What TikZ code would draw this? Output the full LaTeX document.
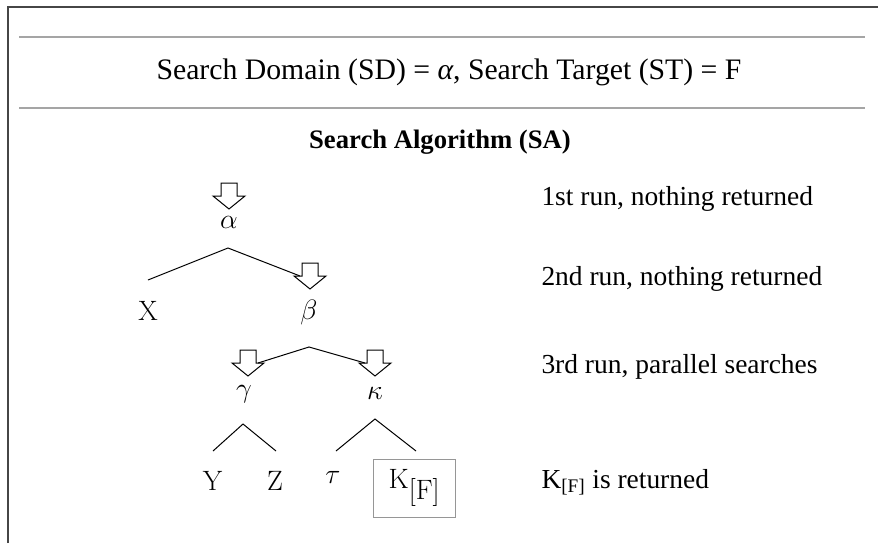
\documentclass[tikz,border=0pt]{standalone}
\usepackage{fix-cm}
\usepackage[no-math]{fontspec}
\setmainfont{Liberation Serif}
\usepackage{tikz}
\definecolor{rulegray}{RGB}{165,165,165}
\definecolor{framegray}{RGB}{70,70,70}
\definecolor{boxgray}{RGB}{150,150,150}
\tikzset{every picture/.style={line width=0.75pt}}
\tikzset{
  runtext/.style={anchor=base west,inner sep=0.75pt,font=\fontsize{20.6}{24}\selectfont},
  lbl/.style={anchor=base,inner sep=0.75pt,font=\fontsize{21}{25}\selectfont},
  searcharrow/.pic={
    \draw (-8,26) -- (8,26) -- (8,13) -- (16,13) -- (0,0) -- (-16,13) -- (-8,13) -- cycle ;
    \coordinate (-l) at (-10,13);
    \coordinate (-r) at (10,13);
  }
}

\begin{document}
\begin{tikzpicture}[x=0.75pt,y=0.75pt,yscale=-1,xscale=1]
\useasboundingbox (0,0) rectangle (878,543); %set diagram to 878 x 543

%Frame
\draw [framegray, line width=1.2pt] (8,543) -- (8,7) -- (878,7) ;
%Rules
\draw [rulegray, line width=1.1pt] (19,37) -- (865,37) ;
\draw [rulegray, line width=1.1pt] (19,108) -- (865,108) ;

% Text Node
\node (hdr) at (449,79) [anchor=base,inner sep=0.75pt,font=\fontsize{22.3}{26}\selectfont] {Search Domain (SD) = \textit{α}, Search Target (ST) = F};
% Text Node
\node (title) at (440,148) [anchor=base,inner sep=0.75pt,font=\bfseries\fontsize{20}{24}\selectfont] {Search Algorithm (SA)};

%Arrows
\pic (arra) at (229,209) {searcharrow};
\pic (arrb) at (310,289) {searcharrow};
\pic (arrg) at (248,376) {searcharrow};
\pic (arrk) at (375,376) {searcharrow};

%Branch points
\coordinate (pka) at (228,248);
\coordinate (pkb) at (309,347);
\coordinate (pkg) at (243,424);
\coordinate (pkk) at (375,419);
\coordinate (xtop) at (148,280);
\coordinate (ytop) at (213,451);
\coordinate (ztop) at (276,451);
\coordinate (ttop) at (336,451);
\coordinate (ktop) at (416,451);

%Straight Lines
\draw (xtop) -- (pka) -- (arrb-l) ;
\draw (arrg-r) -- (pkb) -- (arrk-l) ;
\draw (ytop) -- (pkg) -- (ztop) ;
\draw (ttop) -- (pkk) -- (ktop) ;

% Text Node
\node (alpha) at (229,228) [lbl] {$\alpha$};
\node (X) at (148,320) [lbl] {$\mathrm{X}$};
\node (beta) at (309,319) [lbl] {$\beta$};
\node (gamma) at (244,397) [lbl] {$\gamma$};
\node (kappa) at (375,399) [lbl] {$\kappa$};
\node (Y) at (213,490) [lbl] {$\mathrm{Y}$};
\node (Z) at (275,490) [lbl] {$\mathrm{Z}$};
\node (tau) at (333,483) [lbl] {$\tau$};
\node (K) at (414.5,488) [draw=boxgray,inner sep=0.75pt,minimum width=62pt,minimum height=43.5pt,font=\fontsize{21}{25}\selectfont] {$\mathrm{K}_{\textstyle[\mathrm{F}]}$};

% Text Node
\node (run1) at (540,205) [runtext] {1st run, nothing returned};
\node (run2) at (540,285) [runtext] {2nd run, nothing returned};
\node (run3) at (540,373) [runtext] {3rd run, parallel searches};
\node (run4) at (540,488) [runtext] {K\textsubscript{[F]} is returned};

\end{tikzpicture}
\end{document}
